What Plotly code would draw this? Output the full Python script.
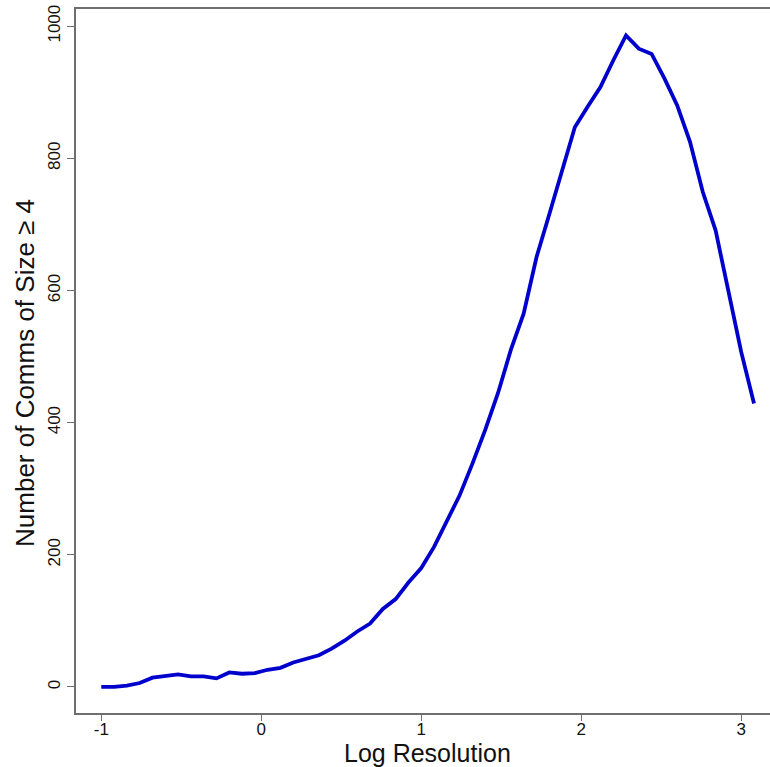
import plotly.graph_objects as go

# Log resolution (x) and number of communities of size >= 4 (y)
log_resolution = [
    -1.00, -0.92, -0.84, -0.76, -0.68, -0.60, -0.52, -0.44, -0.36, -0.28,
    -0.20, -0.12, -0.04, 0.04, 0.12, 0.20, 0.28, 0.36, 0.44, 0.52,
    0.60, 0.68, 0.76, 0.84, 0.92, 1.00, 1.08, 1.16, 1.24, 1.32,
    1.40, 1.48, 1.56, 1.64, 1.72, 1.80, 1.88, 1.96, 2.04, 2.12,
    2.20, 2.28, 2.36, 2.44, 2.52, 2.60, 2.68, 2.76, 2.84, 2.92,
    3.00, 3.08,
]
n_comms = [
    0, 0, 2, 6, 14, 16, 19, 16, 16, 13,
    22, 20, 21, 26, 29, 37, 42, 48, 58, 70,
    84, 96, 118, 133, 158, 180, 212, 250, 290, 338,
    389, 445, 510, 565, 650, 715, 780, 847, 878, 908,
    948, 986, 966, 958, 921, 880, 825, 749, 691, 596,
    507, 429,
]

x_ticks = [-1, 0, 1, 2, 3]
y_ticks = [0, 200, 400, 600, 800, 1000]

x_title = "Log Resolution"
y_title = "Number of Comms of Size ≥ 4"

FONT = "Liberation Sans, Arial, sans-serif"
AXIS_GREY = "#6e6e6e"

fig = go.Figure(
    go.Scatter(
        x=log_resolution,
        y=n_comms,
        mode="lines",
        line=dict(color="#0000CD", width=3.8),
        hoverinfo="skip",
    )
)

fig.update_layout(
    width=770,
    height=767,
    margin=dict(l=76, r=0, t=9, b=54),
    paper_bgcolor="white",
    plot_bgcolor="white",
    showlegend=False,
    font=dict(family=FONT, color="#111111"),
    annotations=[
        dict(
            text=x_title, xref="paper", yref="paper", x=0.507, y=0,
            xanchor="center", yanchor="middle", yshift=-40, showarrow=False,
            font=dict(size=25),
        ),
        dict(
            text=y_title, xref="paper", yref="paper", x=0, y=0.483,
            xanchor="center", yanchor="middle", xshift=-51, textangle=-90,
            showarrow=False, font=dict(size=26),
        ),
    ],
)

fig.update_xaxes(
    range=[-1.158, 3.18],
    tickvals=x_ticks,
    ticktext=[str(v) for v in x_ticks],
    ticks="outside",
    ticklen=6,
    tickwidth=1.2,
    tickcolor=AXIS_GREY,
    showline=True,
    linecolor=AXIS_GREY,
    linewidth=1.5,
    mirror=True,
    showgrid=False,
    zeroline=False,
    tickfont=dict(size=17),
    ticklabelstandoff=-6,
)

fig.update_yaxes(
    range=[-39.4, 1026],
    tickvals=y_ticks,
    ticktext=[str(v) for v in y_ticks],
    tickangle=-90,
    ticks="outside",
    ticklen=7,
    tickwidth=1.2,
    tickcolor=AXIS_GREY,
    showline=True,
    linecolor=AXIS_GREY,
    linewidth=1.5,
    mirror=False,
    showgrid=False,
    zeroline=False,
    tickfont=dict(size=17),
)

fig.write_html("out.html")
